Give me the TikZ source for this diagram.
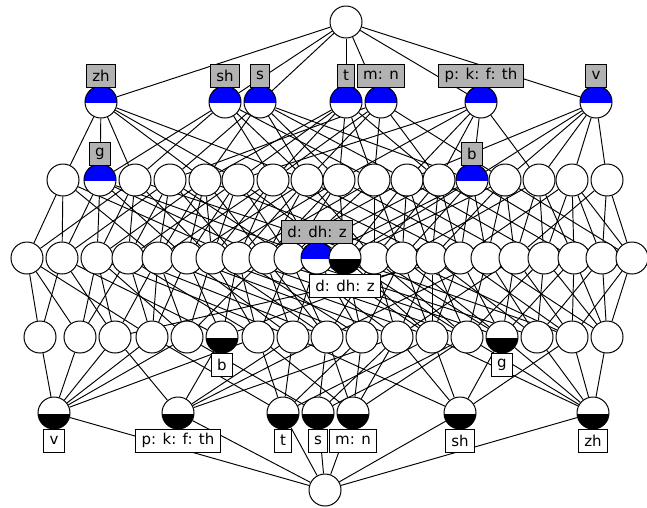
\documentclass[tikz,border=0pt]{standalone}
\usepackage{fontspec}
\setmainfont{DejaVu Sans}
\pgfdeclarelayer{edges}
\pgfsetlayers{edges,main}
\definecolor{labgray}{RGB}{178,178,178}
\begin{document}
\begin{tikzpicture}[x=1pt,y=-1pt,
  conc/.style={circle, draw, line width=1pt, minimum size=32pt, inner sep=0pt, fill=white},
  attrc/.style={conc, path picture={\fill[blue] ([yshift=-1pt]path picture bounding box.north west) rectangle ([yshift=-1pt]path picture bounding box.east);\fill[blue] (path picture bounding box.north west) rectangle (path picture bounding box.east);}},
  objc/.style={conc, path picture={\fill[black] (path picture bounding box.south west) rectangle ([yshift=-1pt]path picture bounding box.east);}},
  lab/.style={draw, line width=0.9pt, inner ysep=0pt, inner xsep=6pt, minimum height=23pt, font=\fontsize{15}{18}\selectfont},
  alab/.style={lab, fill=labgray, anchor=south, yshift=-2pt},
  olab/.style={lab, fill=white, anchor=north, yshift=1pt},
  edge/.style={line width=0.95pt}]
\useasboundingbox (0,0) rectangle (647,507);
% top and bottom
\node[conc] (T) at (346,22) {};
\node[conc] (B) at (325,490) {};
% level 1 (attribute concepts)
\node[attrc] (a1) at (101,102) {};
\node[attrc] (a2) at (225,102) {};
\node[attrc] (a3) at (260,102) {};
\node[attrc] (a4) at (346,102) {};
\node[attrc] (a5) at (381,102) {};
\node[attrc] (a6) at (481,102) {};
\node[attrc] (a7) at (596,102) {};
% level 2
\foreach \i/\x in {1/63,3/135,4/170,5/205,6/238,7/273,8/307,9/339,10/374,11/407,12/439,14/505,15/539,16/572,17/607}
  \node[conc] (b\i) at (\x,180) {};
\node[attrc] (b2) at (100,180) {};
\node[attrc] (b13) at (472,180) {};
% level 3
\foreach \i/\x in {1/27,2/62,3/97,4/128,5/158,6/187,7/212,8/238,9/265,10/290,13/374,14/402,15/432,16/460,17/487,18/515,19/544,20/574,21/602,22/632}
  \node[conc] (c\i) at (\x,258) {};
\node[attrc] (c11) at (317,258) {};
\node[objc] (c12) at (345,258) {};
% level 4
\foreach \i/\x in {1/40,2/80,3/115,4/152,5/187,7/258,8/293,9/327,10/362,11/397,12/432,13/467,15/537,16/572,17/607}
  \node[conc] (d\i) at (\x,337) {};
\node[objc] (d6) at (222,337) {};
\node[objc] (d14) at (502,337) {};
% level 5 (object concepts)
\node[objc] (e1) at (54,413) {};
\node[objc] (e2) at (178,413) {};
\node[objc] (e3) at (283,413) {};
\node[objc] (e4) at (318,413) {};
\node[objc] (e5) at (353,413) {};
\node[objc] (e6) at (460,413) {};
\node[objc] (e7) at (593,413) {};
% edges
\begin{pgfonlayer}{edges}
\foreach \v in {a1,a2,a3,a4,a5,a6,a7} \draw[edge] (T) -- (\v);
\foreach \v in {e1,e2,e3,e4,e5,e6,e7} \draw[edge] (B) -- (\v);
\foreach \u/\v in {a1/b1,a1/b2,a1/b3,a1/b5,a1/b6,a1/b8,
  a2/b2,a2/b3,a2/b7,a2/b8,a2/b10,
  a3/b4,a3/b5,a3/b8,a3/b9,a3/b11,a3/b13,
  a4/b5,a4/b6,a4/b7,a4/b9,a4/b10,a4/b12,
  a5/b4,a5/b7,a5/b8,a5/b10,a5/b12,a5/b14,
  a6/b6,a6/b9,a6/b11,a6/b12,a6/b13,a6/b15,
  a7/b11,a7/b13,a7/b14,a7/b15,a7/b16,a7/b17}
  \draw[edge] (\u) -- (\v);
\foreach \u/\v in {b1/c1,b1/c2,b1/c5,b1/c8,
  b2/c2,b2/c3,b2/c6,b2/c9,b2/c11,
  b3/c1,b3/c3,b3/c4,b3/c7,b3/c13,
  b4/c2,b4/c4,b4/c5,b4/c8,b4/c10,
  b5/c3,b5/c5,b5/c6,b5/c7,b5/c9,b5/c14,
  b6/c4,b6/c6,b6/c7,b6/c10,b6/c12,
  b7/c5,b7/c7,b7/c8,b7/c11,b7/c15,
  b8/c6,b8/c8,b8/c9,b8/c13,b8/c16,
  b9/c7,b9/c9,b9/c10,b9/c12,b9/c17,
  b10/c8,b10/c10,b10/c13,b10/c14,b10/c18,
  b11/c9,b11/c12,b11/c14,b11/c15,b11/c19,
  b12/c10,b12/c13,b12/c15,b12/c16,b12/c20,
  b13/c11,b13/c12,b13/c14,b13/c16,b13/c17,b13/c21,
  b14/c12,b14/c15,b14/c17,b14/c18,b14/c22,
  b15/c14,b15/c18,b15/c19,b15/c20,
  b16/c16,b16/c19,b16/c20,b16/c21,b16/c22,
  b17/c18,b17/c21,b17/c22}
  \draw[edge] (\u) -- (\v);
\foreach \u/\v in {c1/d1,c1/d2,c1/d4,
  c2/d1,c2/d3,c2/d6,
  c3/d2,c3/d3,c3/d5,c3/d8,
  c4/d2,c4/d4,c4/d7,c4/d9,
  c5/d3,c5/d4,c5/d5,c5/d10,
  c6/d4,c6/d6,c6/d8,c6/d11,
  c7/d5,c7/d7,c7/d9,c7/d12,
  c8/d6,c8/d7,c8/d10,c8/d13,
  c9/d5,c9/d8,c9/d9,c9/d14,
  c10/d7,c10/d9,c10/d11,c10/d15,
  c11/d8,c11/d10,c11/d12,
  c12/d10,c12/d12,c12/d13,c12/d16,
  c13/d9,c13/d11,c13/d13,c13/d14,
  c14/d10,c14/d12,c14/d14,c14/d16,
  c15/d6,c15/d11,c15/d12,c15/d13,c15/d15,
  c16/d3,c16/d12,c16/d14,c16/d16,
  c17/d9,c17/d13,c17/d15,c17/d17,
  c18/d11,c18/d14,c18/d16,
  c19/d13,c19/d15,c19/d17,
  c20/d14,c20/d16,c20/d17,
  c21/d15,c21/d17,
  c22/d16,c22/d17}
  \draw[edge] (\u) -- (\v);
\foreach \u/\v in {d1/e1,d2/e1,d3/e1,d4/e1,d5/e1,d7/e1,
  d3/e2,d6/e2,d8/e2,d9/e2,d11/e2,
  d4/e3,d7/e3,d8/e3,d10/e3,d12/e3,
  d5/e4,d9/e4,d11/e4,d13/e4,
  d7/e5,d9/e5,d10/e5,d11/e5,d13/e5,
  d8/e6,d11/e6,d12/e6,d14/e6,d16/e6,
  d12/e7,d13/e7,d14/e7,d15/e7,d16/e7,d17/e7}
  \draw[edge] (\u) -- (\v);
\end{pgfonlayer}
% attribute labels
\node[alab] (la1) at (a1.north) {zh};
\node[alab] (la2) at (a2.north) {sh};
\node[alab] (la3) at (a3.north) {s};
\node[alab] (la4) at (a4.north) {t};
\node[alab] (la5) at (a5.north) {m: n};
\node[alab] (la6) at (a6.north) {p: k: f: th};
\node[alab] (la7) at (a7.north) {v};
\node[alab] (lb2) at (b2.north) {g};
\node[alab] (lb13) at (b13.north) {b};
\node[alab] (lc11) at (c11.north) {d: dh: z};
% object labels
\node[olab] (lc12) at (c12.south) {d: dh: z};
\node[olab] (ld6) at (d6.south) {b};
\node[olab] (ld14) at (d14.south) {g};
\node[olab] (le1) at (e1.south) {v};
\node[olab] (le2) at (e2.south) {p: k: f: th};
\node[olab] (le3) at (e3.south) {t};
\node[olab] (le4) at (e4.south) {s};
\node[olab] (le5) at (e5.south) {m: n};
\node[olab] (le6) at (e6.south) {sh};
\node[olab] (le7) at (e7.south) {zh};
\end{tikzpicture}
\end{document}
